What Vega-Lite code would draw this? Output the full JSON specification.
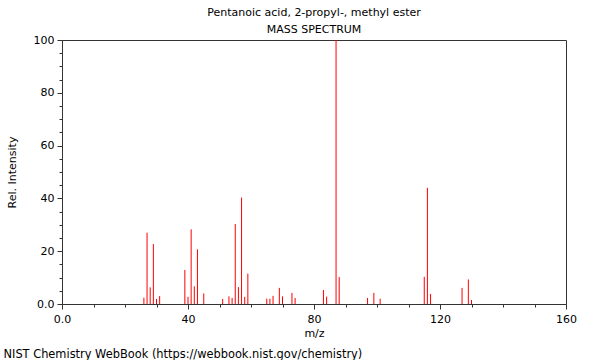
{
  "$schema": "https://vega.github.io/schema/vega-lite/v6.json",
  "width": 504,
  "height": 264,
  "autosize": {"type": "none"},
  "padding": {"left": 62, "top": 40, "right": 34, "bottom": 56},
  "background": "white",
  "title": {
    "text": ["Pentanoic acid, 2-propyl-, methyl ester", "MASS SPECTRUM"],
    "fontSize": 11,
    "fontWeight": "normal",
    "font": "DejaVu Sans",
    "color": "black",
    "lineHeight": 17,
    "offset": -1,
    "anchor": "middle",
    "frame": "group"
  },
  "config": {
    "font": "DejaVu Sans",
    "view": {"stroke": "#333333", "strokeWidth": 1},
    "axis": {
      "domainColor": "#333333",
      "tickColor": "#333333",
      "labelColor": "black",
      "titleColor": "black",
      "labelFontSize": 11,
      "titleFontSize": 11,
      "titleFontWeight": "normal",
      "grid": false,
      "labelFlush": false,
      "labelOverlap": false
    }
  },
  "data": {
    "values": [
      {"mz": 26, "intensity": 2.4},
      {"mz": 27, "intensity": 27.0},
      {"mz": 28, "intensity": 6.3},
      {"mz": 29, "intensity": 22.7},
      {"mz": 30, "intensity": 1.9},
      {"mz": 31, "intensity": 3.0},
      {"mz": 39, "intensity": 12.9},
      {"mz": 40, "intensity": 2.7},
      {"mz": 41, "intensity": 28.3},
      {"mz": 42, "intensity": 6.7},
      {"mz": 43, "intensity": 20.7},
      {"mz": 45, "intensity": 4.0},
      {"mz": 51, "intensity": 1.9},
      {"mz": 53, "intensity": 2.9},
      {"mz": 54, "intensity": 2.3},
      {"mz": 55, "intensity": 30.3},
      {"mz": 56, "intensity": 6.4},
      {"mz": 57, "intensity": 40.3},
      {"mz": 58, "intensity": 2.7},
      {"mz": 59, "intensity": 11.5},
      {"mz": 65, "intensity": 2.0},
      {"mz": 66, "intensity": 2.0},
      {"mz": 67, "intensity": 3.1},
      {"mz": 69, "intensity": 6.1},
      {"mz": 70, "intensity": 2.9},
      {"mz": 73, "intensity": 4.2},
      {"mz": 74, "intensity": 2.3},
      {"mz": 83, "intensity": 5.3},
      {"mz": 84, "intensity": 2.8},
      {"mz": 87, "intensity": 100.0},
      {"mz": 88, "intensity": 10.2},
      {"mz": 97, "intensity": 2.3},
      {"mz": 99, "intensity": 4.2},
      {"mz": 101, "intensity": 2.0},
      {"mz": 115, "intensity": 10.3},
      {"mz": 116, "intensity": 44.0},
      {"mz": 117, "intensity": 3.8},
      {"mz": 127, "intensity": 6.1},
      {"mz": 129, "intensity": 9.3},
      {"mz": 130, "intensity": 1.5}
    ]
  },
  "layer": [
    {
      "mark": {"type": "rule", "color": "#ff0000", "strokeWidth": 1},
      "encoding": {
        "x": {
          "field": "mz",
          "type": "quantitative",
          "scale": {"domain": [0, 160], "nice": false, "zero": false},
          "axis": {
            "orient": "bottom",
            "title": "m/z",
            "values": [0, 10, 20, 30, 40, 50, 60, 70, 80, 90, 100, 110, 120, 130, 140, 150, 160],
            "labelExpr": "datum.value % 40 === 0 ? (datum.value === 0 ? '0.0' : datum.label) : ''",
            "tickSize": {"condition": {"test": "datum.value % 40 === 0", "value": 5}, "value": 3},
            "labelPadding": 4,
            "titlePadding": 3
          }
        },
        "y": {
          "field": "intensity",
          "type": "quantitative",
          "scale": {"domain": [0, 100], "nice": false},
          "axis": {
            "title": "Rel. Intensity",
            "values": [0, 5, 10, 15, 20, 25, 30, 35, 40, 45, 50, 55, 60, 65, 70, 75, 80, 85, 90, 95, 100],
            "labelExpr": "datum.value % 20 === 0 ? (datum.value === 0 ? '0.0' : datum.label) : ''",
            "tickSize": {"condition": {"test": "datum.value % 20 === 0", "value": 5}, "value": 3},
            "labelPadding": 3,
            "titlePadding": 16
          }
        },
        "y2": {"datum": 0}
      }
    },
    {
      "mark": {"type": "rule", "opacity": 0},
      "encoding": {
        "x": {
          "field": "mz",
          "type": "quantitative",
          "scale": {"domain": [0, 160], "nice": false, "zero": false},
          "axis": {
            "orient": "bottom",
            "title": "NIST Chemistry WebBook (https://webbook.nist.gov/chemistry)",
            "titleFontSize": 11.4,
            "domain": false,
            "ticks": false,
            "labels": false,
            "titleX": -59,
            "titleY": 53,
            "titleAlign": "left",
            "titleBaseline": "alphabetic",
            "titleAnchor": null
          }
        }
      }
    }
  ],
  "resolve": {"axis": {"x": "independent"}}
}
